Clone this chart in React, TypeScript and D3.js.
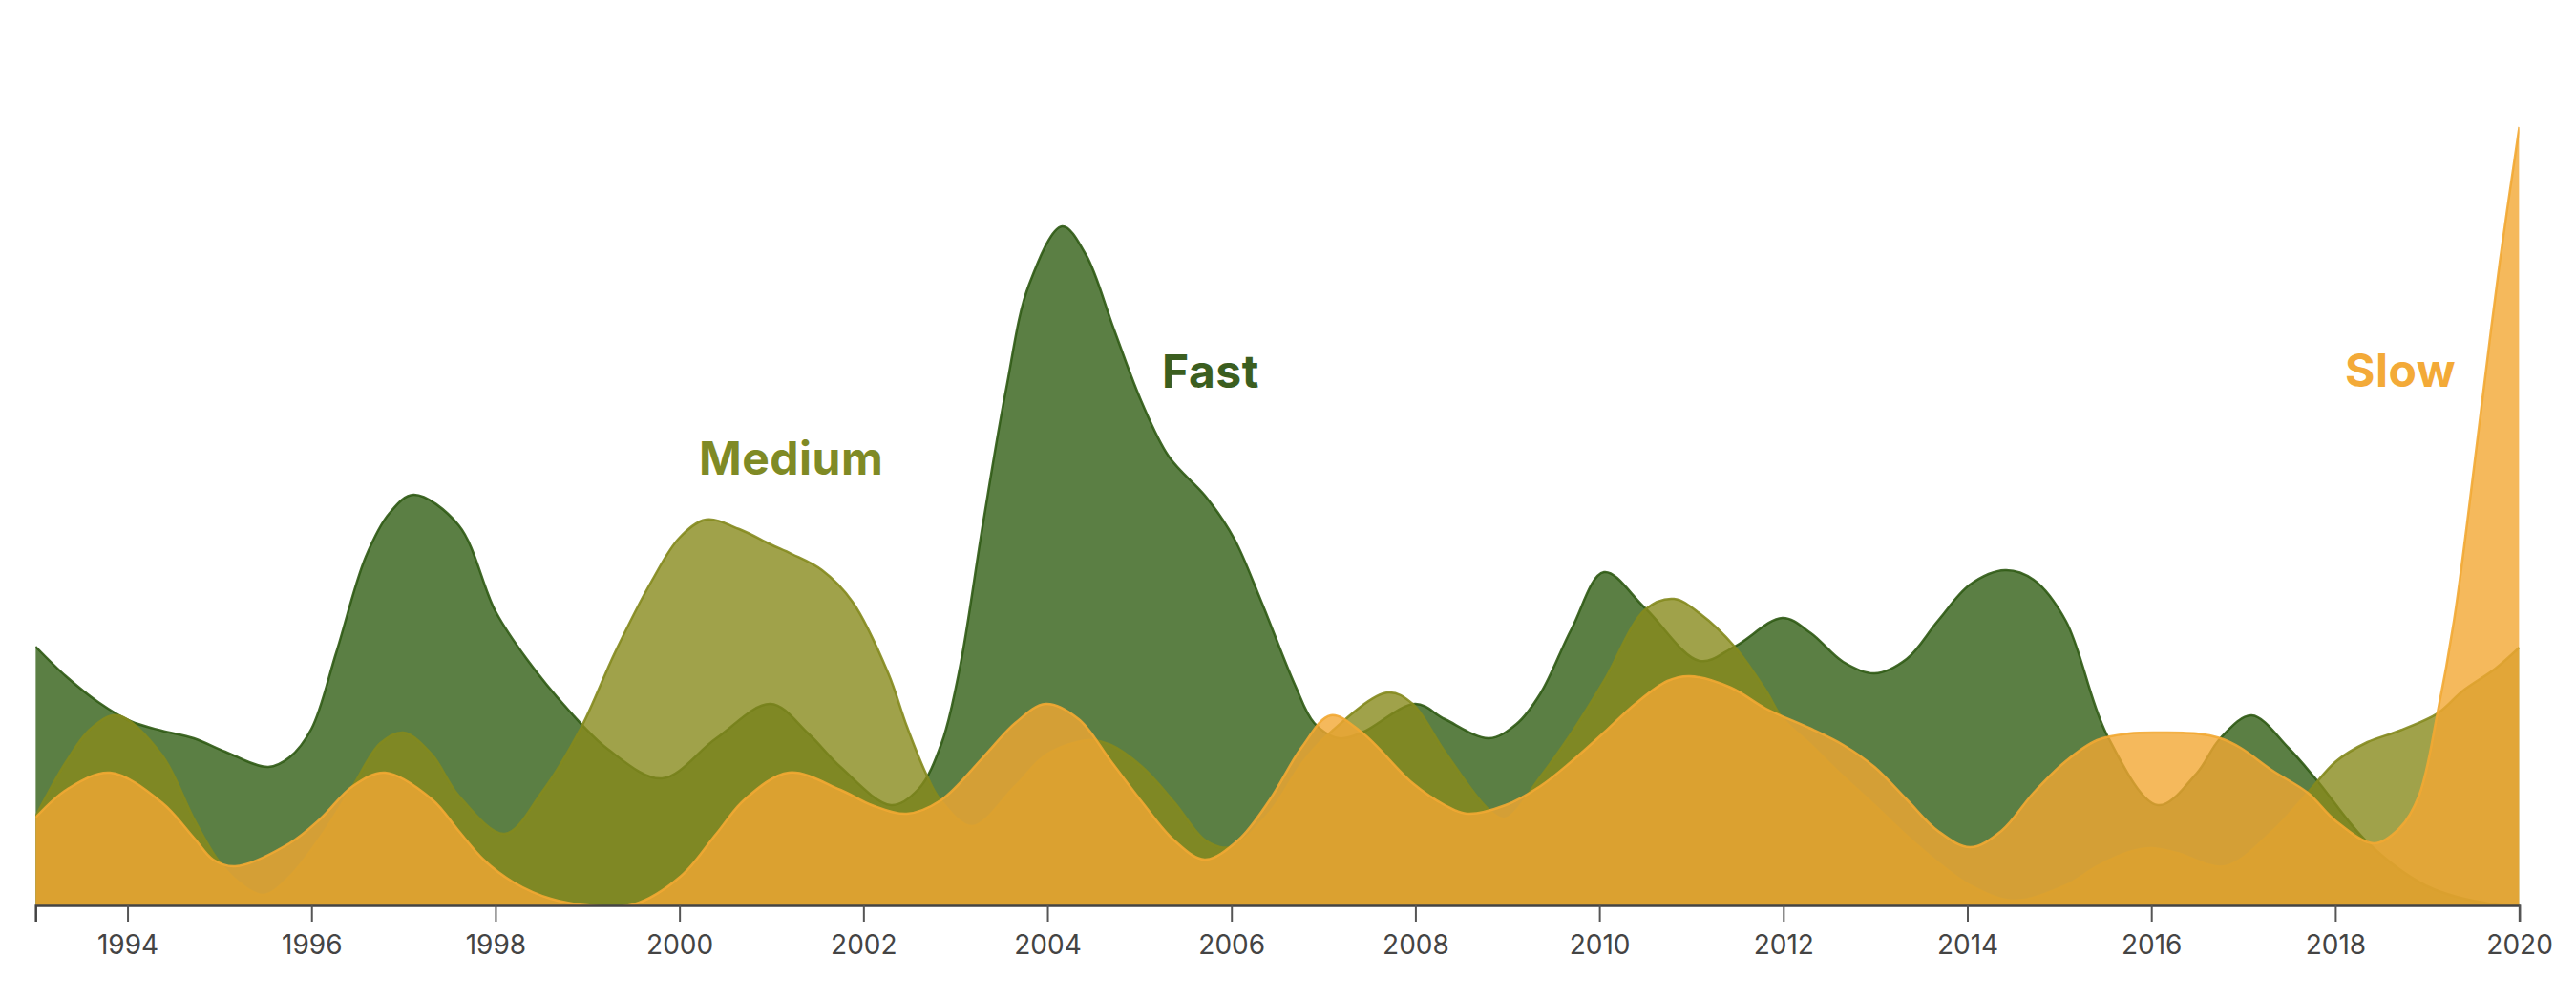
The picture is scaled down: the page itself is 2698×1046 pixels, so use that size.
import React, { useEffect, useRef } from "react";
import * as d3 from "d3";

// ---- Data (density-like units) ----
const fastYears = [1993.0, 1993.33, 1993.68, 1994.03, 1994.37, 1994.72, 1995.06, 1995.53, 1995.76, 1996.0, 1996.27, 1996.59, 1996.85, 1997.11, 1997.6, 1998.0, 1998.34, 1998.79, 1999.23, 1999.81, 2000.4, 2000.99, 2001.4, 2001.75, 2002.3, 2002.6, 2002.85, 2003.05, 2003.3, 2003.55, 2003.8, 2004.16, 2004.42, 2004.72, 2005.02, 2005.32, 2005.73, 2006.03, 2006.33, 2006.69, 2006.9, 2007.17, 2007.42, 2008.0, 2008.32, 2008.8, 2009.1, 2009.36, 2009.7, 2010.05, 2010.5, 2011.09, 2011.47, 2011.99, 2012.3, 2012.65, 2012.99, 2013.34, 2013.68, 2014.03, 2014.41, 2014.72, 2015.07, 2015.52, 2016.07, 2016.49, 2016.75, 2017.09, 2017.49, 2017.8, 2018.35, 2019.0, 2019.72, 2020.0];
const fastValues = [271, 240, 213, 193, 183, 175, 161, 145, 155, 185, 265, 365, 411, 430, 398, 308, 258, 205, 163, 133, 175, 211, 180, 145, 105, 122, 170, 250, 400, 540, 650, 711, 681, 604, 528, 470, 427, 384, 317, 231, 191, 175, 181, 211, 195, 175, 190, 222, 290, 349, 311, 256, 271, 301, 285, 255, 243, 258, 298, 336, 351, 341, 298, 178, 105, 138, 175, 199, 165, 131, 66, 20, 1, 0];

const mediumYears = [1993.0, 1993.33, 1993.6, 1993.89, 1994.37, 1994.72, 1994.98, 1995.2, 1995.48, 1995.76, 1996.1, 1996.45, 1996.75, 1997.0, 1997.31, 1997.6, 1998.1, 1998.5, 1998.93, 1999.3, 1999.7, 2000.0, 2000.29, 2000.65, 2000.99, 2001.22, 2001.55, 2001.88, 2002.27, 2002.47, 2002.68, 2002.84, 2003.18, 2003.65, 2003.99, 2004.45, 2004.69, 2005.03, 2005.38, 2005.72, 2005.99, 2006.42, 2006.76, 2007.04, 2007.7, 2007.97, 2008.32, 2008.8, 2008.98, 2009.36, 2009.7, 2010.05, 2010.5, 2010.81, 2011.1, 2011.47, 2011.81, 2011.99, 2012.3, 2012.65, 2012.99, 2013.34, 2013.68, 2014.03, 2014.5, 2015.07, 2015.41, 2015.76, 2016.0, 2016.28, 2016.8, 2017.32, 2017.7, 2018.01, 2018.35, 2018.7, 2019.11, 2019.39, 2019.74, 2020.0];
const mediumValues = [93, 150, 185, 199, 158, 91, 48, 25, 11, 30, 72, 125, 170, 181, 158, 115, 75, 118, 186, 265, 340, 385, 404, 394, 378, 368, 351, 318, 243, 188, 138, 110, 83, 125, 158, 173, 168, 145, 108, 68, 61, 98, 148, 178, 223, 211, 161, 100, 91, 135, 181, 235, 310, 321, 305, 271, 225, 196, 168, 135, 105, 73, 45, 21, 5, 21, 41, 56, 60, 55, 41, 78, 118, 151, 171, 183, 201, 225, 248, 270];

const slowYears = [1993.0, 1993.35, 1993.81, 1994.37, 1994.72, 1994.93, 1995.17, 1995.76, 1996.1, 1996.45, 1996.8, 1997.31, 1997.6, 1997.87, 1998.2, 1998.6, 1999.0, 1999.5, 2000.02, 2000.4, 2000.71, 2001.19, 2001.75, 2002.09, 2002.47, 2002.84, 2003.3, 2003.65, 2003.98, 2004.34, 2004.69, 2005.03, 2005.38, 2005.71, 2006.07, 2006.42, 2006.76, 2007.08, 2007.42, 2007.97, 2008.32, 2008.56, 2008.98, 2009.36, 2009.7, 2010.05, 2010.39, 2010.74, 2010.98, 2011.43, 2011.81, 2012.3, 2012.65, 2012.99, 2013.34, 2013.68, 2014.03, 2014.37, 2014.72, 2015.07, 2015.41, 2015.76, 2016.1, 2016.49, 2016.75, 2016.97, 2017.32, 2017.7, 2018.01, 2018.42, 2018.7, 2018.91, 2019.11, 2019.29, 2019.43, 2019.58, 2019.79, 2020.0];
const slowValues = [92, 122, 139, 108, 71, 48, 41, 65, 91, 125, 139, 111, 78, 48, 24, 7, 0, 1, 31, 75, 111, 139, 121, 105, 96, 110, 155, 191, 211, 195, 151, 108, 68, 48, 68, 111, 165, 199, 181, 128, 105, 96, 105, 125, 151, 181, 211, 235, 240, 228, 206, 185, 168, 145, 111, 78, 61, 78, 118, 151, 173, 180, 181, 180, 175, 165, 141, 118, 88, 65, 81, 115, 201, 298, 398, 515, 675, 815];

const seriesNames = ["Fast", "Medium", "Slow"];
const seriesFill = ["#325f15", "#888b1d", "#f2a833"];
const seriesStroke = ["#2f5a14", "#848a1e", "#f2a833"];
const labelColors = ["#3b5e1f", "#7f8a25", "#f3aa38"];
const tickYears = [1994, 1996, 1998, 2000, 2002, 2004, 2006, 2008, 2010, 2012, 2014, 2016, 2018, 2020];

const W = 2698;
const H = 1046;

export default function App() {
  const axisRef = useRef<SVGGElement | null>(null);

  const x = d3.scaleLinear().domain([1993, 2020]).range([37.2, 2638.6]);
  const y = d3.scaleLinear().domain([0, 848]).range([948, 100]);

  const zip = (ys: number[], vs: number[]) => ys.map((yr, i) => ({ year: yr, value: vs[i] }));
  const series = [
    zip(fastYears, fastValues),
    zip(mediumYears, mediumValues),
    zip(slowYears, slowValues),
  ];

  const curve = d3.curveCatmullRom.alpha(0.5);
  const area = d3
    .area<{ year: number; value: number }>()
    .x((d) => x(d.year))
    .y0(y(0))
    .y1((d) => y(d.value))
    .curve(curve);
  const line = d3
    .line<{ year: number; value: number }>()
    .x((d) => x(d.year))
    .y((d) => y(d.value))
    .curve(curve);

  useEffect(() => {
    if (!axisRef.current) return;
    const g = d3.select(axisRef.current);
    g.call(
      d3
        .axisBottom(x)
        .tickValues(tickYears)
        .tickFormat(d3.format("d"))
        .tickSize(17)
        .tickSizeOuter(17)
        .tickPadding(14)
    );
    g.selectAll("text")
      .attr("font-family", "Inter, sans-serif")
      .attr("font-size", 28)
      .attr("fill", "#444");
    g.selectAll(".tick line").attr("stroke", "#555").attr("stroke-width", 2);
    g.select(".domain").attr("stroke", "#444").attr("stroke-width", 2.5);
  }, []);

  const labels = [
    { x: 1217, y: 406, size: 48 },
    { x: 732, y: 497, size: 48 },
    { x: 2456, y: 405, size: 48 },
  ];

  return (
    <svg
      width={W}
      height={H}
      style={{ position: "absolute", left: 0, top: 0, display: "block", background: "#fff" }}
    >
      <defs>
        <clipPath id="plotClip">
          <rect x={x(1993)} y={0} width={x(2020) - x(1993)} height={y(0)} />
        </clipPath>
      </defs>
      <g clipPath="url(#plotClip)">
        {series.map((s, i) => (
          <g key={seriesNames[i]}>
            <path d={area(s) || ""} fill={seriesFill[i]} fillOpacity={0.8} stroke="none" />
            <path d={line(s) || ""} fill="none" stroke={seriesStroke[i]} strokeWidth={2.5} strokeOpacity={0.9} />
          </g>
        ))}
      </g>
      <g ref={axisRef} transform={`translate(0,${y(0)})`} />
      {seriesNames.map((name, i) => (
        <text
          key={name}
          x={labels[i].x}
          y={labels[i].y}
          fontFamily="Inter, sans-serif"
          fontWeight={700}
          fontSize={labels[i].size}
          letterSpacing={0.5}
          fill={labelColors[i]}
        >
          {name}
        </text>
      ))}
    </svg>
  );
}
